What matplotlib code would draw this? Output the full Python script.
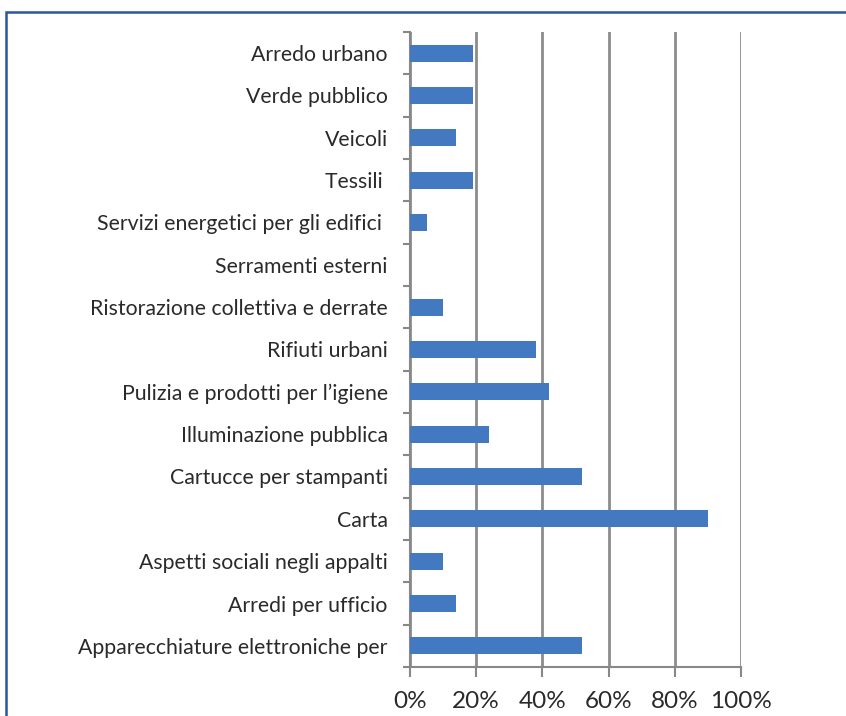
import matplotlib
matplotlib.use("Agg")
import matplotlib.pyplot as plt
from matplotlib.patches import Rectangle
import numpy as np

categories = [
    "Arredo urbano",
    "Verde pubblico",
    "Veicoli",
    "Tessili ",
    "Servizi energetici per gli edifici ",
    "Serramenti esterni",
    "Ristorazione collettiva e derrate",
    "Rifiuti urbani",
    "Pulizia e prodotti per l\u2019igiene",
    "Illuminazione pubblica",
    "Cartucce per stampanti",
    "Carta",
    "Aspetti sociali negli appalti",
    "Arredi per ufficio",
    "Apparecchiature elettroniche per",
]
values = [19, 19, 14, 19, 5, 0, 10, 38, 42, 24, 52, 90, 10, 14, 52]
xticks = [0, 20, 40, 60, 80, 100]
xticklabels = ["0%", "20%", "40%", "60%", "80%", "100%"]

plt.rcParams['font.family'] = ['Lato', 'DejaVu Sans']

fig = plt.figure(figsize=(8.46, 7.16), dpi=100)
ax = fig.add_axes([410/846, 1-667/716, (741-410)/846, (667-32)/716])

n = len(categories)
y = np.arange(n)[::-1]
ax.set_axisbelow(True)
ax.barh(y, values, height=0.4, color="#4279c0", zorder=3)
ax.set_xlim(0, 100)
ax.set_ylim(-0.5, n-0.5)

ax.set_xticks(xticks)
ax.set_xticklabels(xticklabels, fontsize=17.5, color="#2a2a2a")
ax.tick_params(axis='x', length=7, width=1.5, color="#888888", pad=10, direction='out')
ax.xaxis.grid(True, color="#8c8c8c", linewidth=2)

ax.set_yticks(y)
ax.set_yticklabels(categories, fontsize=15.3, color="#2a2a2a")
ax.set_yticks(np.arange(-0.5, n, 1), minor=True)
ax.tick_params(axis='y', which='major', length=0, pad=16)
ax.tick_params(axis='y', which='minor', length=5, width=1.5, color="#888888", direction='out')

for s in ['top', 'right']:
    ax.spines[s].set_visible(False)
for s in ['left', 'bottom']:
    ax.spines[s].set_color("#888888")
    ax.spines[s].set_linewidth(1.5)

# Blue frame around the chart (partly cropped)
fig.add_artist(Rectangle((6/846, -0.2), 1.2, 1.2 - 12/716,
                         transform=fig.transFigure, fill=False,
                         edgecolor="#2b55a0", linewidth=1.8, clip_on=False))

fig.savefig("out.png", dpi=100)
